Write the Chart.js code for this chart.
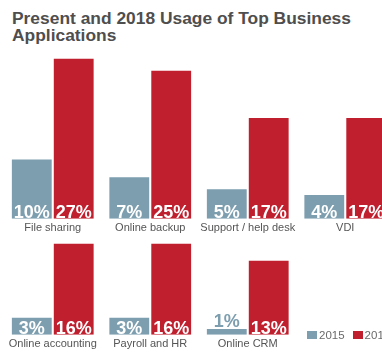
<!DOCTYPE html>
<html>
<head>
<meta charset="utf-8">
<script src="https://cdn.jsdelivr.net/npm/chart.js@4"></script>
<style>
  body { margin: 0; background: #fff; }
  #wrap { position: relative; width: 382px; height: 354px; overflow: hidden; background: #fff; }
  #title { position: absolute; left: 12px; top: 10px; font: bold 17.4px 'Liberation Sans', Arial, sans-serif; color: #4e4e4e; line-height: 17px; }
  .box { position: absolute; left: 0; width: 420px; }
  #legend { position: absolute; left: 307px; top: 331px; font: 11.5px 'Liberation Sans', Arial, sans-serif; color: #6a6a6a; white-space: nowrap; line-height: 9px; }
  #legend span.sw { display: inline-block; width: 10px; height: 8px; vertical-align: top; margin-right: 2px; }
</style>
</head>
<body>
<div id="wrap">
  <div id="title">Present and 2018 Usage of Top Business<br>Applications</div>
  <div class="box" style="top:0;height:238px"><canvas id="topChart"></canvas></div>
  <div class="box" style="top:238px;height:116px"><canvas id="bottomChart"></canvas></div>
  <div id="legend"></div>
</div>
<script>
// data
const topLabels = ['File sharing', 'Online backup', 'Support / help desk', 'VDI'];
const top2015 = [10, 7, 5, 4];
const top2018 = [27, 25, 17, 17];

const bottomLabels = ['Online accounting', 'Payroll and HR', 'Online CRM'];
const bottom2015 = [3, 3, 1];
const bottom2018 = [16, 16, 13];

const seriesNames = ['2015', '2018'];
const BLUE = '#7d9eaf';
const RED = '#c01f2e';

Chart.defaults.font.family = "'Liberation Sans', Arial, sans-serif";

// percent labels sitting at the bottom of each bar
const pctLabels = {
  id: 'pctLabels',
  afterDatasetsDraw(chart) {
    const ctx = chart.ctx;
    ctx.save();
    ctx.font = "bold 18px 'Liberation Sans', Arial, sans-serif";
    ctx.textAlign = 'center';
    ctx.textBaseline = 'alphabetic';
    chart.data.datasets.forEach((ds, i) => {
      chart.getDatasetMeta(i).data.forEach((bar, j) => {
        const txt = ds.data[j] + '%';
        if (bar.base - bar.y > 12) {
          ctx.fillStyle = '#fff';
          ctx.fillText(txt, bar.x, bar.base - 1);
        } else {
          ctx.fillStyle = ds.backgroundColor;
          ctx.fillText(txt, bar.x, bar.y - 2);
        }
      });
    });
    ctx.restore();
  }
};

function makeChart(id, labels, a, b, max, pad) {
  return new Chart(document.getElementById(id), {
    type: 'bar',
    data: {
      labels: labels,
      datasets: [
        { label: seriesNames[0], data: a, backgroundColor: BLUE },
        { label: seriesNames[1], data: b, backgroundColor: RED }
      ]
    },
    options: {
      responsive: true,
      maintainAspectRatio: false,
      animation: false,
      layout: { padding: pad },
      datasets: { bar: { categoryPercentage: 0.86, barPercentage: 0.95 } },
      plugins: { legend: { display: false }, tooltip: { enabled: false } },
      scales: {
        x: {
          grid: { display: false, drawTicks: false },
          border: { display: false },
          ticks: { color: '#555', font: { size: 11 }, padding: 3, maxRotation: 0, autoSkip: false }
        },
        y: { display: false, min: 0, max: max }
      }
    },
    plugins: [pctLabels]
  });
}

makeChart('topChart', topLabels, top2015, top2018, 30, { left: 4, right: 26, top: 41, bottom: 0 });
makeChart('bottomChart', bottomLabels, bottom2015, bottom2018, 17, { left: 4, right: 123.5, top: 0, bottom: 0 });

document.getElementById('legend').innerHTML =
  '<span class="sw" style="background:' + BLUE + '"></span>' + seriesNames[0] +
  '<span class="sw" style="background:' + RED + ';margin-left:8px"></span>' + seriesNames[1];
</script>
</body>
</html>
